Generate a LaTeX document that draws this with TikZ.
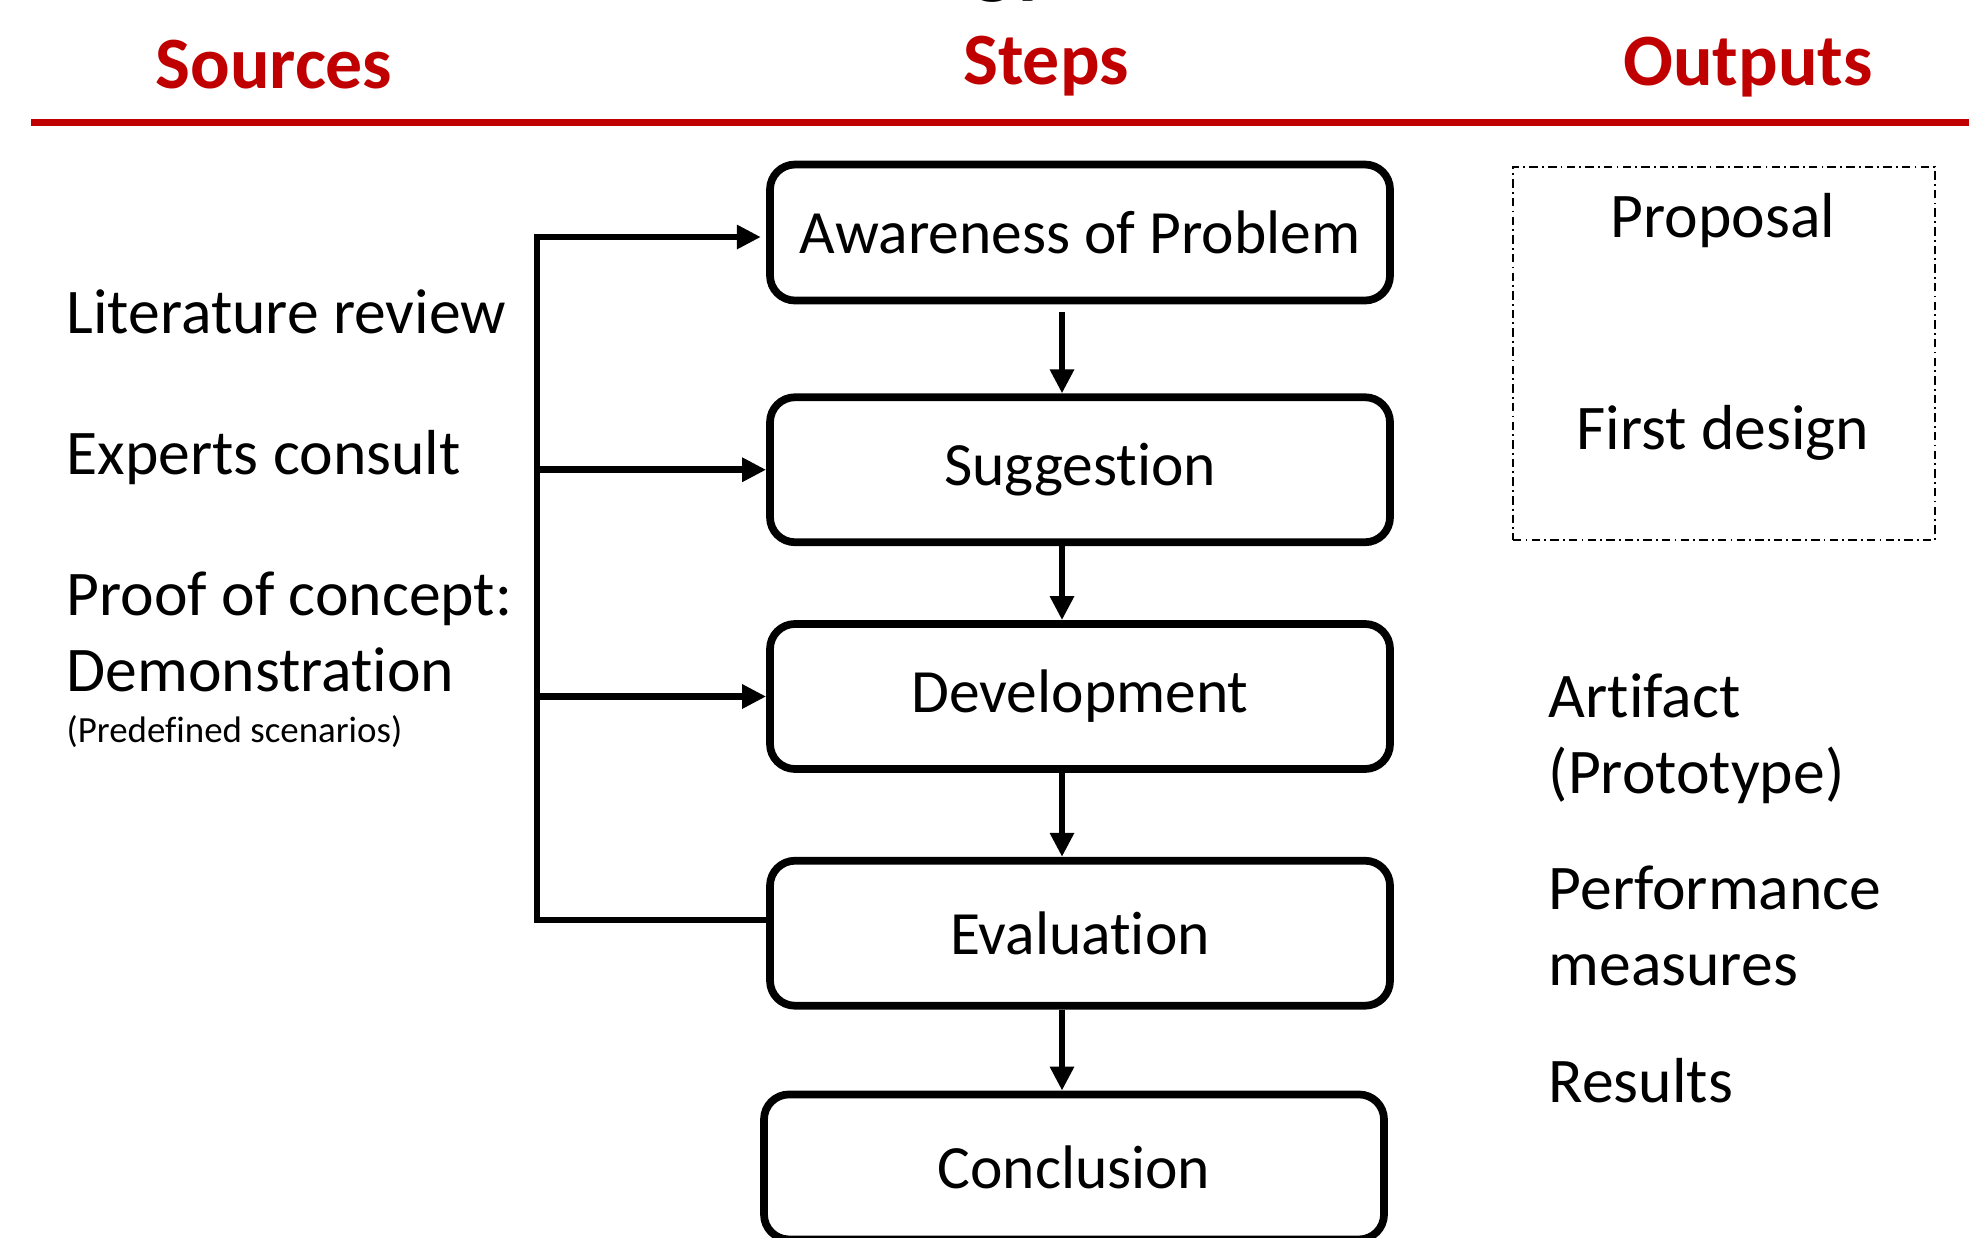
\documentclass[tikz,border=0pt]{standalone}
\usepackage{fontspec}
\setmainfont{Carlito}[RawFeature={-liga;-clig;-dlig;-calt}]
\usepackage{xcolor}
\usetikzlibrary{arrows.meta, positioning}
\definecolor{headred}{HTML}{C00000}

\begin{document}
\begin{tikzpicture}[
  node distance=0.82cm,
  stepbox/.style={rectangle, draw, line width=2.2pt, rounded corners=0.25cm, minimum width=6.2cm, minimum height=1.45cm, align=center, font=\fontsize{17.5}{21.5}\selectfont},
  header/.style={anchor=base, text=headred, font=\fontsize{21}{25}\selectfont\bfseries},
  source/.style={anchor=base west, align=left, inner sep=0pt, font=\fontsize{18.1}{21.5}\selectfont},
  output/.style={anchor=base, inner sep=0pt, font=\fontsize{18.1}{21.5}\selectfont},
  outbox/.style={draw, line width=0.5pt, dash pattern=on 2.4pt off 1.2pt on 0.5pt off 1.2pt, minimum width=4.22cm, minimum height=3.73cm},
  arrow/.style={-{Triangle[length=2.4mm, width=2.3mm]}, line width=1.9pt}
]
\useasboundingbox (0,0) rectangle (19.69,-12.37);
\clip (0,0) rectangle (19.69,-12.37);

% title line and column headers
\node[anchor=base east, font=\fontsize{25}{30}\selectfont\bfseries] (title) at (10.68,0.13) {Methodology};
\node[header] (sources) at (2.74,-0.88) {Sources};
\node[header] (steps) at (10.46,-0.84) {Steps};
\node[header] (outputs) at (17.48,-0.85) {Outputs};
\draw[headred, line width=2pt] (0.31,-1.22) -- (19.69,-1.22);

% steps
\node[stepbox, minimum height=1.36cm] (aware) at (10.80,-2.325) {Awareness of Problem};
\node[stepbox, below=0.89cm of aware] (suggest) {Suggestion};
\node[stepbox, below=0.74cm of suggest] (develop) {Development};
\node[stepbox, below=0.84cm of develop] (evaluate) {Evaluation};
\node[stepbox, below=0.81cm of evaluate, xshift=-0.06cm] (conclude) {Conclusion};

\coordinate (flow) at (10.62,0);
\draw[arrow, shorten <=0.08cm] (aware.south -| flow) -- (suggest.north -| flow);
\draw[arrow] (suggest.south -| flow) -- (develop.north -| flow);
\draw[arrow] (develop.south -| flow) -- (evaluate.north -| flow);
\draw[arrow] (evaluate.south -| flow) -- (conclude.north -| flow);

% feedback loop on the left
\coordinate (fbtop) at (5.37,-2.37);
\coordinate (fbbot) at (5.37,-9.20);
\draw[arrow, shorten >=1.5pt] (evaluate.west |- fbbot) -- (fbbot) -- (fbtop) -- (aware.west |- fbtop);
\draw[arrow] (fbtop |- suggest.west) -- (suggest.west);
\draw[arrow] (fbtop |- develop.west) -- (develop.west);

% sources
\node[source] (litrev) at (0.66,-3.33) {Literature review};
\node[source] (experts) at (0.66,-4.74) {Experts consult};
\node[source] (poc) at (0.66,-6.91) {Proof of concept:\\Demonstration};
\node[source, font=\fontsize{10.5}{12.5}\selectfont] (scenarios) at (0.66,-7.42) {(Predefined scenarios)};

% outputs
\node[outbox] (early) at (17.24,-3.535) {};
\node[output] (proposal) at (17.23,-2.37) {Proposal};
\node[output] (design) at (17.23,-4.49) {First design};
\node[source] (artifact) at (15.48,-7.93) {Artifact\\(Prototype)};
\node[source] (perf) at (15.48,-9.85) {Performance\\measures};
\node[source] (results) at (15.48,-11.02) {Results};

\end{tikzpicture}
\end{document}
